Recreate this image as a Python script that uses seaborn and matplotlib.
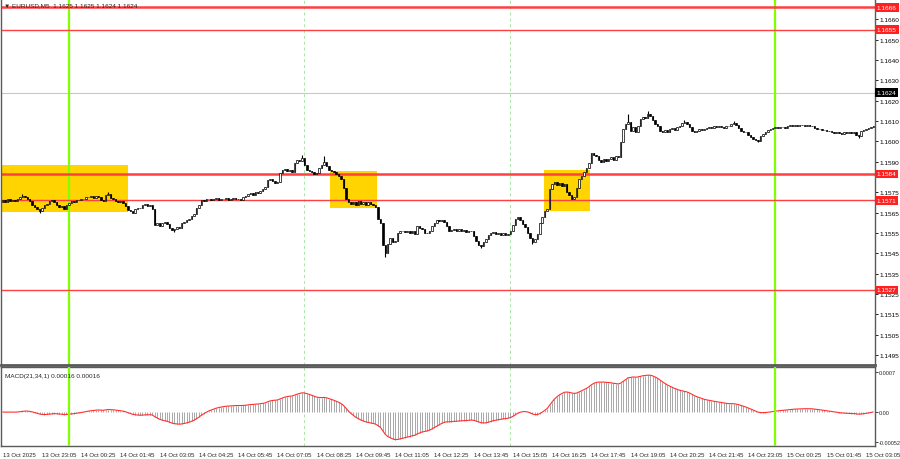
import numpy as np
import pandas as pd
import seaborn as sns
import matplotlib
matplotlib.use("Agg")
from matplotlib import pyplot as plt
from matplotlib.patches import Rectangle
from matplotlib.transforms import blended_transform_factory

# ------------------------------------------------------------
# data: EURUSD M5, 13 Oct 21:45 -> 15 Oct 03:20 (closes in points above 1.15000)
# ------------------------------------------------------------
first_open = 1.15700
close_pts = [
    710, 700, 715, 708, 712, 705, 715, 725, 732, 728, 715, 705, 690, 678, 670, 660,
    672, 688, 695, 705, 710, 700, 688, 678, 682, 670, 690, 698, 705, 700, 710, 712,
    718, 715, 728, 725, 732, 722, 730, 726, 712, 708, 735, 742, 720, 715, 708, 702,
    705, 698, 683, 665, 658, 650, 668, 675, 672, 686, 692, 684, 688, 668, 590, 598,
    585, 600, 605, 595, 575, 565, 570, 580, 575, 598, 605, 612, 620, 632, 645, 672,
    690, 712, 708, 715, 718, 710, 715, 722, 712, 718, 715, 720, 712, 716, 722, 715,
    718, 712, 725, 730, 742, 748, 738, 752, 745, 758, 768, 778, 812, 815, 805, 798,
    802, 845, 858, 865, 855, 858, 850, 895, 910, 905, 918, 885, 862, 855, 850, 842,
    845, 868, 885, 900, 878, 858, 855, 850, 838, 830, 815, 770, 715, 702, 695, 700,
    690, 705, 692, 700, 688, 702, 695, 688, 680, 620, 600, 490, 450, 495, 525, 505,
    510, 550, 558, 562, 555, 562, 548, 558, 545, 582, 575, 570, 552, 548, 560, 585,
    600, 612, 608, 615, 605, 585, 560, 565, 572, 558, 568, 560, 565, 555, 562, 558,
    535, 510, 490, 485, 505, 522, 540, 552, 555, 545, 552, 540, 548, 538, 545, 560,
    590, 620, 628, 612, 595, 580, 552, 525, 505, 520, 545, 600, 630, 660, 668, 765,
    790, 800, 785, 795, 780, 790, 752, 735, 718, 728, 770, 815, 832, 850, 868, 895,
    945, 935, 928, 910, 900, 915, 905, 915, 922, 910, 928, 925, 995, 1060, 1085, 1095,
    1050, 1070, 1045, 1075, 1108, 1120, 1115, 1135, 1125, 1105, 1085, 1078, 1052, 1048, 1055, 1045,
    1060, 1068, 1058, 1072, 1076, 1090, 1096, 1085, 1070, 1050, 1048, 1052, 1060, 1055, 1062, 1066,
    1072, 1068, 1075, 1070, 1078, 1072, 1068, 1075, 1078, 1088, 1092, 1080, 1066, 1052, 1048, 1045,
    1030, 1022, 1012, 1005, 1002, 1025, 1038, 1045, 1055, 1060, 1068, 1072, 1065, 1070, 1072, 1068,
    1075, 1080, 1078, 1082, 1078, 1080, 1083, 1078, 1080, 1076, 1078, 1066, 1060, 1062, 1055, 1058,
    1052, 1050, 1045, 1040, 1046, 1042, 1038, 1044, 1040, 1046, 1042, 1045, 1030, 1027, 1050, 1055,
    1062, 1068, 1072, 1078,
]
# notable wicks (bar index -> points above 1.15000)
wick_high = {8: 740, 43: 750, 122: 935, 131: 930, 255: 1135, 263: 1150, 278: 1105, 298: 1100}
wick_low = {15: 648, 70: 555, 156: 432, 195: 478, 216: 495, 308: 995, 349: 1018}

levels = [1.1666, 1.1655, 1.1584, 1.1571, 1.1527]
level_widths = [1.8, 1.0, 1.8, 1.0, 1.0]
bid_price = 1.1624

price_ticks = [1.1660, 1.1650, 1.1640, 1.1630, 1.1620, 1.1610, 1.1600, 1.1590, 1.1575,
               1.1565, 1.1555, 1.1545, 1.1535, 1.1525, 1.1515, 1.1505, 1.1495]
macd_ticks = [0.0007, 0.0, -0.00052]
macd_tick_labels = ["0.0007", "0.00", "-0.00052"]

time_tick_bars = list(range(0, 353, 16))
time_tick_labels = [
    "13 Oct 2025", "13 Oct 23:05", "14 Oct 00:25", "14 Oct 01:45", "14 Oct 03:05",
    "14 Oct 04:25", "14 Oct 05:45", "14 Oct 07:05", "14 Oct 08:25", "14 Oct 09:45",
    "14 Oct 11:05", "14 Oct 12:25", "14 Oct 13:45", "14 Oct 15:05", "14 Oct 16:25",
    "14 Oct 17:45", "14 Oct 19:05", "14 Oct 20:25", "14 Oct 21:45", "14 Oct 23:05",
    "15 Oct 00:25", "15 Oct 01:45", "15 Oct 03:05",
]
midnight_bars = [27, 315]
session_bars = [123, 207]

# highlighted zones: (first bar, last bar, low price, high price)
zones = [(-0.7, 51.1, 1.15652, 1.15886),
         (133.5, 152.5, 1.15673, 1.15856),
         (220.8, 239.6, 1.15660, 1.15860)]

# ------------------------------------------------------------
close = 1.15 + np.array(close_pts) / 1e5
n = len(close)
bars = np.arange(n)
opn = np.concatenate([[first_open], close[:-1]])
high = np.maximum(opn, close)
low = np.minimum(opn, close)
for k, v in wick_high.items():
    high[k] = max(high[k], 1.15 + v / 1e5)
for k, v in wick_low.items():
    low[k] = min(low[k], 1.15 + v / 1e5)

df = pd.DataFrame({"bar": bars, "open": opn, "high": high, "low": low, "close": close})
df["macd"] = (df["close"].ewm(span=21, adjust=False).mean()
              - df["close"].ewm(span=34, adjust=False).mean())

sns.set_style("white")
plt.rcParams["font.family"] = ["Liberation Sans Narrow", "Liberation Sans", "DejaVu Sans"]
plt.rcParams["font.size"] = 4.6

fs = 4.6
fs_x = 4.3
fig = plt.figure(figsize=(9, 4.6), dpi=100)
ax = fig.add_axes([1 / 900, 94 / 460, 874 / 900, 365 / 460])
axm = fig.add_axes([1 / 900, 13 / 460, 874 / 900, 79 / 460])

xlim = (-0.7, 355.7)
spine_col = "#5a5a5a"

# --- main chart ---
for x0, x1, p0, p1 in zones:
    ax.add_patch(Rectangle((x0, p0), x1 - x0, p1 - p0, color="#ffd400", zorder=1, lw=0))

for lv, lw in zip(levels, level_widths):
    ax.axhline(lv, color="#ff4040", lw=lw, zorder=2.5)
ax.axhline(bid_price, color="#c8c8c8", lw=0.8, zorder=0.8)

for b in midnight_bars:
    ax.axvline(b, color="#7fff00", lw=1.6, zorder=1.5)
    axm.axvline(b, color="#7fff00", lw=1.6, zorder=3)
for b in session_bars:
    ax.axvline(b, color="#a6e6a6", lw=0.7, ls=(0, (3, 3)), zorder=0.9)
    axm.axvline(b, color="#a6e6a6", lw=0.7, ls=(0, (3, 3)), zorder=0.9)

ax.vlines(df["bar"], df["low"], df["high"], color="black", lw=0.8, zorder=3)
bull = df["close"] >= df["open"]
ax.bar(df["bar"][bull], (df["close"] - df["open"])[bull], bottom=df["open"][bull],
       width=0.6, color="white", edgecolor="black", lw=0.5, zorder=4)
ax.bar(df["bar"][~bull], (df["close"] - df["open"])[~bull], bottom=df["open"][~bull],
       width=0.6, color="black", edgecolor="black", lw=0.5, zorder=4)

ax.set_xlim(*xlim)
ax.set_ylim(1.149014, 1.16695)
ax.yaxis.tick_right()
ax.set_yticks(price_ticks)
ax.set_yticklabels([f"{t:.4f}" for t in price_ticks])
ax.tick_params(axis="y", length=2, width=0.6, pad=1.5, labelsize=fs, colors="black", direction="out")
ax.set_xticks([])
for s in ["left", "right"]:
    ax.spines[s].set_color(spine_col)
    ax.spines[s].set_linewidth(1)
ax.spines["top"].set_visible(False)
ax.spines["bottom"].set_color(spine_col)
ax.spines["bottom"].set_linewidth(2)

trans = blended_transform_factory(ax.transAxes, ax.transData)
for lv in levels:
    ax.text(1.002, lv, f"{lv:.4f}", transform=trans, fontsize=fs, color="white",
            va="center", ha="left", zorder=10, clip_on=False,
            bbox=dict(boxstyle="square,pad=0.3", fc="#ff2020", ec="none"))
ax.text(1.002, bid_price, f"{bid_price:.4f}", transform=trans, fontsize=fs, color="white",
        va="center", ha="left", zorder=10, clip_on=False,
        bbox=dict(boxstyle="square,pad=0.3", fc="black", ec="none"))

fig.text(4 / 900, 1 - 6 / 460, "\u25bc EURUSD,M5  1.1625 1.1625 1.1624 1.1624",
         fontsize=fs, va="center", ha="left")

# --- MACD panel ---
axm.vlines(df["bar"], 0, df["macd"], color="#a8a8a8", lw=0.7, zorder=1)
sns.lineplot(data=df, x="bar", y="macd", ax=axm, color="#ff3030", lw=0.8, zorder=2)
axm.set_xlim(*xlim)
axm.set_ylim(-0.000595, 0.0007875)
axm.yaxis.tick_right()
axm.set_yticks(macd_ticks)
axm.set_yticklabels(macd_tick_labels)
axm.tick_params(axis="y", length=2, width=0.6, pad=0.8, labelsize=4.0, direction="out")
axm.set_xticks(time_tick_bars)
axm.set_xticklabels(time_tick_labels, ha="left")
axm.tick_params(axis="x", length=3, width=0.6, pad=1.5, labelsize=fs_x, direction="out")
axm.set_xlabel("")
axm.set_ylabel("")
for s in ["left", "right", "bottom", "top"]:
    axm.spines[s].set_color(spine_col)
    axm.spines[s].set_linewidth(1)
axm.text(4 / 874, 0.93, "MACD(21,34,1) 0.00016 0.00016", transform=axm.transAxes,
         fontsize=fs, va="top", ha="left")

fig.savefig("out.png", dpi=100)
